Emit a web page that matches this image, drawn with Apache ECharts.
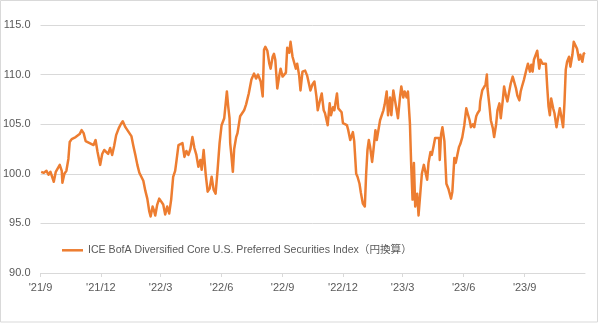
<!DOCTYPE html>
<html>
<head>
<meta charset="utf-8">
<script src="https://cdn.jsdelivr.net/npm/echarts@6/dist/echarts.min.js"></script>
<style>
html,body{margin:0;padding:0;background:#fff;}
#chart{width:600px;height:323px;}
</style>
</head>
<body>
<div id="chart"></div>
<script>
var seriesName = 'ICE BofA Diversified Core U.S. Preferred Securities Index（円換算）';

var dates = [
'2021-09-02','2021-09-06','2021-09-10','2021-09-13','2021-09-16','2021-09-19','2021-09-21','2021-09-24','2021-09-27','2021-09-30',
'2021-10-03','2021-10-04','2021-10-07','2021-10-10','2021-10-13','2021-10-15','2021-10-18','2021-10-21','2021-10-24','2021-10-27','2021-10-30',
'2021-11-02','2021-11-05','2021-11-08','2021-11-11','2021-11-14','2021-11-17','2021-11-20','2021-11-23','2021-11-26','2021-11-29','2021-11-30',
'2021-12-03','2021-12-06','2021-12-09','2021-12-12','2021-12-15','2021-12-18','2021-12-21','2021-12-24','2021-12-28','2021-12-31',
'2022-01-03','2022-01-05','2022-01-07','2022-01-10','2022-01-13','2022-01-16','2022-01-19','2022-01-22','2022-01-25','2022-01-28','2022-01-31',
'2022-02-03','2022-02-06','2022-02-09','2022-02-12','2022-02-14','2022-02-17','2022-02-19','2022-02-21','2022-02-24','2022-02-27',
'2022-03-02','2022-03-05','2022-03-08','2022-03-11','2022-03-14','2022-03-17','2022-03-20','2022-03-23','2022-03-25','2022-03-28','2022-03-31',
'2022-04-03','2022-04-06','2022-04-09','2022-04-12','2022-04-15','2022-04-18','2022-04-21','2022-04-24','2022-04-27','2022-04-30',
'2022-05-02','2022-05-05','2022-05-08','2022-05-11','2022-05-14','2022-05-17','2022-05-20','2022-05-23','2022-05-26','2022-05-29',
'2022-06-01','2022-06-05','2022-06-09','2022-06-11','2022-06-13','2022-06-14','2022-06-16','2022-06-18','2022-06-20','2022-06-23','2022-06-25','2022-06-29',
'2022-07-02','2022-07-05','2022-07-08','2022-07-12','2022-07-16','2022-07-20','2022-07-23','2022-07-26','2022-07-30',
'2022-08-02','2022-08-04','2022-08-06','2022-08-09','2022-08-12','2022-08-14','2022-08-17','2022-08-19','2022-08-21','2022-08-24','2022-08-27','2022-08-29',
'2022-09-01','2022-09-03','2022-09-06','2022-09-08','2022-09-11','2022-09-13','2022-09-16','2022-09-18','2022-09-21','2022-09-23','2022-09-26','2022-09-28',
'2022-10-01','2022-10-05','2022-10-08','2022-10-11','2022-10-13','2022-10-16','2022-10-19','2022-10-22','2022-10-24','2022-10-27','2022-10-30',
'2022-11-02','2022-11-04','2022-11-08','2022-11-11','2022-11-13','2022-11-16','2022-11-18','2022-11-22','2022-11-24','2022-11-27','2022-11-29',
'2022-12-01','2022-12-04','2022-12-07','2022-12-09','2022-12-12','2022-12-16','2022-12-18','2022-12-21','2022-12-23','2022-12-26','2022-12-28','2022-12-31',
'2023-01-03','2023-01-05','2023-01-07','2023-01-09','2023-01-11','2023-01-14','2023-01-16','2023-01-19','2023-01-21','2023-01-24','2023-01-26','2023-01-28','2023-01-31',
'2023-02-02','2023-02-05','2023-02-07','2023-02-10','2023-02-12','2023-02-15','2023-02-17','2023-02-20','2023-02-22','2023-02-25','2023-02-27',
'2023-03-02','2023-03-04','2023-03-07','2023-03-09','2023-03-12','2023-03-14','2023-03-16','2023-03-18','2023-03-20','2023-03-23','2023-03-25','2023-03-28','2023-03-30',
'2023-04-02','2023-04-04','2023-04-07','2023-04-09','2023-04-12','2023-04-14','2023-04-17','2023-04-19','2023-04-22','2023-04-25','2023-04-26','2023-04-28','2023-04-30',
'2023-05-03','2023-05-06','2023-05-09','2023-05-13','2023-05-15','2023-05-18','2023-05-20','2023-05-22','2023-05-25','2023-05-27','2023-05-30',
'2023-06-01','2023-06-02','2023-06-05','2023-06-07','2023-06-10','2023-06-12','2023-06-15','2023-06-17','2023-06-20','2023-06-22','2023-06-25','2023-06-26','2023-06-29',
'2023-07-01','2023-07-04','2023-07-06','2023-07-07','2023-07-10','2023-07-12','2023-07-15','2023-07-17','2023-07-20','2023-07-22','2023-07-25','2023-07-27','2023-07-30',
'2023-08-01','2023-08-04','2023-08-06','2023-08-09','2023-08-11','2023-08-14','2023-08-16','2023-08-19','2023-08-21','2023-08-24','2023-08-26','2023-08-28','2023-08-31',
'2023-09-04','2023-09-06','2023-09-09','2023-09-11','2023-09-13','2023-09-15','2023-09-18','2023-09-20','2023-09-23','2023-09-25','2023-09-28','2023-09-30',
'2023-10-03','2023-10-05','2023-10-07','2023-10-09','2023-10-11','2023-10-14','2023-10-16','2023-10-19','2023-10-21','2023-10-24','2023-10-26','2023-10-29','2023-10-31',
'2023-11-02','2023-11-04','2023-11-07','2023-11-09','2023-11-12','2023-11-14','2023-11-17','2023-11-19','2023-11-22','2023-11-24','2023-11-27','2023-11-29','2023-12-01'
];

var values = [
100.2,100.1,100.3,99.9,100.2,99.6,99.2,100.2,100.4,100.9,
100.3,99.1,100.0,100.3,101.5,103.2,103.5,103.4,103.7,103.5,104.0,
104.4,104.1,103.3,103.4,103.1,103.2,102.9,103.4,102.2,101.2,100.9,
102.0,102.4,102.4,102.0,102.6,101.9,102.8,103.9,104.6,105.0,
105.3,105.4,104.7,104.6,104.1,103.8,102.8,101.9,100.9,100.1,100.3,
99.3,98.3,97.5,96.2,95.7,96.7,96.3,95.8,96.9,97.5,
97.7,96.9,95.9,96.7,96.0,97.4,99.7,100.3,101.3,102.9,102.9,
103.1,101.7,102.3,101.9,102.5,103.7,102.6,101.9,100.7,101.4,
100.4,102.4,100.0,98.2,98.5,99.7,98.4,98.0,100.4,103.1,
104.9,105.6,108.3,106.8,105.6,103.1,101.7,100.2,102.5,103.7,104.1,105.8,
105.6,106.4,107.0,108.1,109.5,110.1,109.6,110.0,109.3,
107.8,112.5,112.8,112.4,111.1,110.6,111.8,112.1,111.5,108.6,109.9,110.6,
109.8,109.7,110.2,112.7,112.2,113.3,111.8,112.0,110.6,111.1,109.9,108.4,
110.3,110.4,109.9,109.0,108.4,109.0,109.3,107.8,106.4,107.3,108.1,
106.4,106.1,104.9,107.1,105.9,106.7,106.4,108.1,106.6,106.7,106.2,
105.1,105.3,104.9,104.4,103.4,104.2,103.3,100.0,99.7,99.0,98.1,97.0,
96.7,100.0,102.4,103.4,102.7,101.2,102.4,104.4,103.4,103.6,105.4,105.3,106.4,
107.0,108.3,105.9,107.7,105.9,108.4,107.6,107.4,105.6,107.7,108.8,
107.7,108.3,107.7,108.3,105.1,100.7,97.4,101.1,96.7,98.0,95.8,96.0,100.0,
100.9,100.7,99.4,101.1,102.2,101.9,102.9,103.6,103.7,103.6,101.4,104.0,104.7,
103.3,99.0,98.5,97.5,98.2,101.6,101.1,101.3,102.7,103.0,103.7,
103.8,104.9,106.6,106.1,105.4,104.7,105.0,104.7,105.8,106.1,106.4,107.3,108.4,
108.6,109.0,110.0,108.6,106.8,105.4,104.6,103.7,105.0,106.4,107.1,105.6,107.4,
108.8,107.8,107.3,108.4,109.1,109.8,110.0,108.6,107.9,107.4,108.3,108.8,109.5,
110.6,111.1,110.3,111.0,110.3,111.5,111.3,112.4,110.6,111.5,111.1,111.3,
111.1,108.8,106.8,105.9,107.6,106.6,106.1,104.7,105.5,106.6,105.9,104.7,107.1,
110.5,111.3,111.8,110.8,112.0,113.3,113.1,112.6,111.5,112.0,111.3,112.1,112.2
];

var tickDates = ['2021-09-01','2021-12-01','2022-03-01','2022-06-01','2022-09-01','2022-12-01','2023-03-01','2023-06-01','2023-09-01'];
var tickLabels = ["'21/9","'21/12","'22/3","'22/6","'22/9","'22/12","'23/3","'23/6","'23/9"];
var xMin = '2021-09-01';
var xMax = '2023-12-01';
var yMin = 90, yMax = 115, yStep = 5;

function ts(s){ var p = s.split('-'); return Date.UTC(+p[0], +p[1]-1, +p[2]); }

var tickTs = tickDates.map(ts);
var labelMap = {};
tickTs.forEach(function(t,i){ labelMap[t] = tickLabels[i]; });
var seriesData = dates.map(function(d,i){ return [ts(d), values[i]]; });

var chart = echarts.init(document.getElementById('chart'), null, {renderer:'canvas'});
var gray = '#d9d9d9', txt = '#595959';
chart.setOption({
  animation: false,
  backgroundColor: '#fff',
  textStyle: { fontFamily: "'Liberation Sans', 'Noto Sans CJK JP', sans-serif" },
  graphic: [{
    type: 'rect', silent: true,
    shape: { x: 0.5, y: 0.5, width: 597, height: 321.5 },
    style: { fill: 'none', stroke: gray, lineWidth: 1 }
  }],
  grid: { left: 40, right: 15, top: 25, bottom: 50 },
  legend: {
    show: true,
    left: 57, top: 240,
    icon: 'rect',
    itemWidth: 21, itemHeight: 2.5,
    itemStyle: { color: '#ED7D31' },
    textStyle: { color: txt, fontSize: 10.6, fontFamily: "'Liberation Sans', 'Noto Sans CJK JP', sans-serif" },
    data: [seriesName]
  },
  xAxis: {
    type: 'value',
    min: ts(xMin), max: ts(xMax),
    axisLine: { show: true, lineStyle: { color: gray, width: 1 } },
    axisTick: { show: true, customValues: tickTs, length: 4, lineStyle: { color: gray } },
    axisLabel: {
      customValues: tickTs,
      color: txt, fontSize: 11, margin: 9,
      formatter: function(v){ return labelMap[v] !== undefined ? labelMap[v] : ''; }
    },
    splitLine: { show: false }
  },
  yAxis: {
    type: 'value',
    min: yMin, max: yMax, interval: yStep,
    axisLine: { show: false },
    axisTick: { show: false },
    axisLabel: { color: txt, fontSize: 11, margin: 10, formatter: function(v){ return v.toFixed(1); } },
    splitLine: { show: true, lineStyle: { color: gray, width: 1 } }
  },
  series: [{
    name: seriesName,
    type: 'line',
    data: seriesData,
    showSymbol: false,
    symbol: 'none',
    lineStyle: { color: '#ED7D31', width: 2.5, join: 'round' },
    itemStyle: { color: '#ED7D31' }
  }]
});
</script>
</body>
</html>
